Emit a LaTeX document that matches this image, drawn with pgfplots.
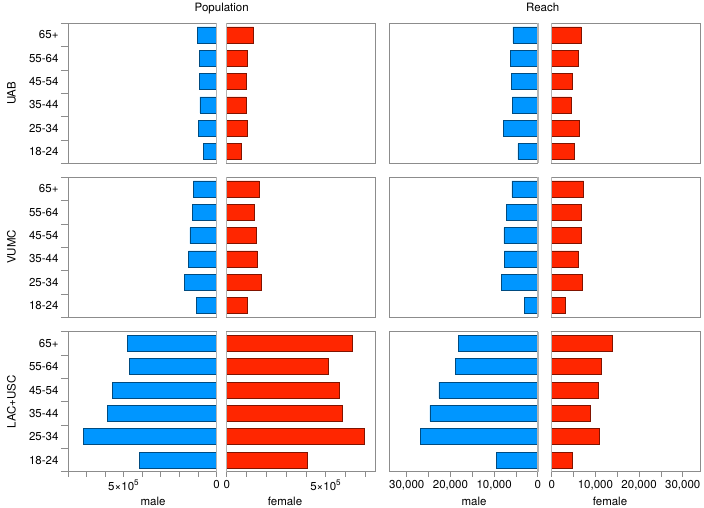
\documentclass[border=0pt]{standalone}
\usepackage{fontspec}
\setmainfont{TeX Gyre Heros}
\usepackage{pgfplots}
\usepackage{pgfplotstable}
\pgfplotsset{compat=1.18}
\definecolor{mblue}{HTML}{0096FF}
\definecolor{fred}{HTML}{FF2600}
\definecolor{frame}{HTML}{8C8C8C}
\definecolor{zero}{HTML}{B4B4B4}
\newcommand\fs{\fontsize{11.5bp}{13bp}\selectfont}

% y: 1=18-24, 2=25-34, 3=35-44, 4=45-54, 5=55-64, 6=65+
\pgfplotstableread{
y pm pf rm rf
1 72000 71000 4580 5250
2 98000 104000 7870 6390
3 89000 98000 5810 4400
4 93000 101000 6110 4630
5 93000 104000 6340 6160
6 104000 136000 5720 6760
}\uab
\pgfplotstableread{
y pm pf rm rf
1 109000 103000 3130 3200
2 173000 177000 8400 7080
3 150000 152000 7640 6070
4 143000 148000 7780 6690
5 129000 141000 7190 6850
6 125000 162000 5950 7310
}\vumc
\pgfplotstableread{
y pm pf rm rf
1 416000 407000 9540 4790
2 717000 693000 26930 10960
3 589000 586000 24710 8900
4 559000 569000 22650 10730
5 469000 513000 18860 11260
6 479000 633000 18170 13770
}\lac

\tikzset{
  zl/.style={draw=zero, line width=1.5bp},
  mbar/.style={fill=mblue, draw=mblue!50!black, line width=0.5bp},
  fbar/.style={fill=fred, draw=fred!50!black, line width=0.5bp},
}
\pgfplotsset{
  panel/.style={
    scale only axis, width=148.5bp, height=140bp, anchor=north west,
    ymin=0.5, ymax=6.5, xmin=0,
    xtick=\empty, ytick=\empty, scaled ticks=false,
    xtick pos=bottom, ytick pos=left,
    axis line style={draw=frame, line width=0.8bp},
    tick style={draw=frame, line width=0.7bp},
    tick align=outside, major tick length=5bp, minor tick length=7bp,
    xbar, bar width=0.686, clip=false,
    tick label style={font=\fs, text=black},
  },
  male/.style={x dir=reverse},
  ylab/.style={
    ytick={1,2,3,4,5,6},
    yticklabels={18-24,25-34,35-44,45-54,55-64,65+},
    minor ytick={0.5,1.5,2.5,3.5,4.5,5.5,6.5},
    major y tick style={draw=none},
    yticklabel style={xshift=-1bp},
  },
}

\begin{document}
\begin{tikzpicture}
\useasboundingbox (0,0) rectangle (704bp,-508bp);

% ---------------- titles ----------------
\node[anchor=base, font=\fs] at (221.7bp,-11bp) {Population};
\node[anchor=base, font=\fs] at (542.7bp,-11bp) {Reach};
\node[anchor=base, rotate=90, font=\fs] at (15.5bp,-93.3bp) {UAB};
\node[anchor=base, rotate=90, font=\fs] at (15.5bp,-247bp) {VUMC};
\node[anchor=base, rotate=90, font=\fs] at (15.5bp,-401.7bp) {LAC+USC};
\node[anchor=base, font=\fs] at (153bp,-505bp) {male};
\node[anchor=base, font=\fs] at (285bp,-505bp) {female};
\node[anchor=base, font=\fs] at (474bp,-505bp) {male};
\node[anchor=base, font=\fs] at (610bp,-505bp) {female};

% ================= Row 1: UAB =================
\begin{axis}[panel, male, ylab, at={(68bp,-23.3bp)}, xmax=800000]
\addplot[mbar] table[x=pm, y=y] {\uab};
\draw[zl] (axis cs:0,0.5) -- (axis cs:0,6.5);
\end{axis}
\begin{axis}[panel, at={(226.7bp,-23.3bp)}, xmax=750000]
\addplot[fbar] table[x=pf, y=y] {\uab};
\draw[zl] (axis cs:0,0.5) -- (axis cs:0,6.5);
\end{axis}
\begin{axis}[panel, male, at={(389.3bp,-23.3bp)}, xmax=34000]
\addplot[mbar] table[x=rm, y=y] {\uab};
\draw[zl] (axis cs:0,0.5) -- (axis cs:0,6.5);
\end{axis}
\begin{axis}[panel, at={(551.7bp,-23.3bp)}, xmax=34000]
\addplot[fbar] table[x=rf, y=y] {\uab};
\draw[zl] (axis cs:0,0.5) -- (axis cs:0,6.5);
\end{axis}

% ================= Row 2: VUMC =================
\begin{axis}[panel, male, ylab, at={(68bp,-177.3bp)}, xmax=800000]
\addplot[mbar] table[x=pm, y=y] {\vumc};
\draw[zl] (axis cs:0,0.5) -- (axis cs:0,6.5);
\end{axis}
\begin{axis}[panel, at={(226.7bp,-177.3bp)}, xmax=750000]
\addplot[fbar] table[x=pf, y=y] {\vumc};
\draw[zl] (axis cs:0,0.5) -- (axis cs:0,6.5);
\end{axis}
\begin{axis}[panel, male, at={(389.3bp,-177.3bp)}, xmax=34000]
\addplot[mbar] table[x=rm, y=y] {\vumc};
\draw[zl] (axis cs:0,0.5) -- (axis cs:0,6.5);
\end{axis}
\begin{axis}[panel, at={(551.7bp,-177.3bp)}, xmax=34000]
\addplot[fbar] table[x=rf, y=y] {\vumc};
\draw[zl] (axis cs:0,0.5) -- (axis cs:0,6.5);
\end{axis}

% ================= Row 3: LAC+USC =================
\begin{axis}[panel, male, ylab, at={(68bp,-331.7bp)}, xmax=800000,
  xtick={0,100000,200000,300000,400000,500000,600000,700000,800000},
  xticklabels={0,,,,,5×10\textsuperscript{5},,,}]
\addplot[mbar] table[x=pm, y=y] {\lac};
\draw[zl] (axis cs:0,0.5) -- (axis cs:0,6.5);
\end{axis}
\begin{axis}[panel, at={(226.7bp,-331.7bp)}, xmax=750000,
  xtick={0,100000,200000,300000,400000,500000,600000,700000},
  xticklabels={0,,,,,5×10\textsuperscript{5},,}]
\addplot[fbar] table[x=pf, y=y] {\lac};
\draw[zl] (axis cs:0,0.5) -- (axis cs:0,6.5);
\end{axis}
\begin{axis}[panel, male, at={(389.3bp,-331.7bp)}, xmax=34000,
  xtick={0,5000,10000,15000,20000,25000,30000},
  xticklabels={0,,{10,000},,{20,000},,{30,000}}]
\addplot[mbar] table[x=rm, y=y] {\lac};
\draw[zl] (axis cs:0,0.5) -- (axis cs:0,6.5);
\end{axis}
\begin{axis}[panel, at={(551.7bp,-331.7bp)}, xmax=34000,
  xtick={0,5000,10000,15000,20000,25000,30000},
  xticklabels={0,,{10,000},,{20,000},,{30,000}}]
\addplot[fbar] table[x=rf, y=y] {\lac};
\draw[zl] (axis cs:0,0.5) -- (axis cs:0,6.5);
\end{axis}
\end{tikzpicture}
\end{document}
